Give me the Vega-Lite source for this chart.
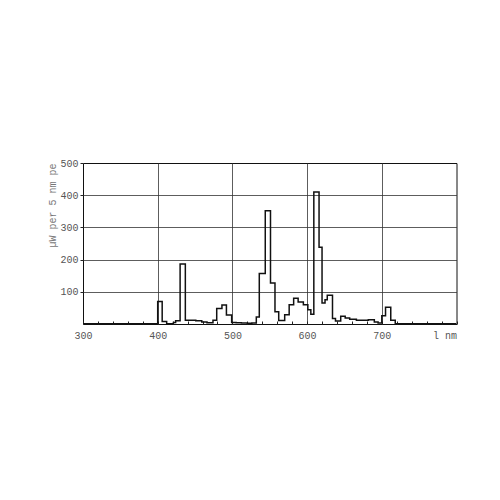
{
  "$schema": "https://vega.github.io/schema/vega-lite/v6.json",
  "autosize": "none",
  "width": 373.5,
  "height": 161,
  "padding": {"left": 83, "top": 163, "right": 43.5, "bottom": 176},
  "background": "white",
  "config": {
    "view": {"stroke": "#111", "strokeWidth": 1},
    "axis": {
      "domain": false,
      "labelFont": "Liberation Mono",
      "labelFontSize": 10,
      "labelColor": "#555",
      "tickColor": "#222",
      "gridColor": "#333",
      "gridWidth": 0.8
    }
  },
  "data": {
    "values": [
      {"nm": 300, "uw": 1},
      {"nm": 400, "uw": 70},
      {"nm": 406, "uw": 8},
      {"nm": 412, "uw": 1},
      {"nm": 421, "uw": 5},
      {"nm": 424, "uw": 10},
      {"nm": 430, "uw": 186},
      {"nm": 437, "uw": 12},
      {"nm": 451, "uw": 10},
      {"nm": 459, "uw": 6},
      {"nm": 466, "uw": 4},
      {"nm": 474, "uw": 12},
      {"nm": 479, "uw": 48},
      {"nm": 486, "uw": 59},
      {"nm": 492, "uw": 28},
      {"nm": 499, "uw": 5},
      {"nm": 505, "uw": 4},
      {"nm": 512, "uw": 3},
      {"nm": 520, "uw": 2},
      {"nm": 526, "uw": 3},
      {"nm": 532, "uw": 22},
      {"nm": 536, "uw": 157},
      {"nm": 544, "uw": 352},
      {"nm": 551, "uw": 127},
      {"nm": 557, "uw": 38},
      {"nm": 562, "uw": 11},
      {"nm": 570, "uw": 29},
      {"nm": 576, "uw": 60},
      {"nm": 582, "uw": 80},
      {"nm": 588, "uw": 68},
      {"nm": 595, "uw": 60},
      {"nm": 601, "uw": 44},
      {"nm": 605, "uw": 30},
      {"nm": 609, "uw": 410},
      {"nm": 616, "uw": 238},
      {"nm": 620, "uw": 65},
      {"nm": 624, "uw": 75},
      {"nm": 627, "uw": 89},
      {"nm": 634, "uw": 17},
      {"nm": 638, "uw": 9},
      {"nm": 645, "uw": 24},
      {"nm": 651, "uw": 19},
      {"nm": 657, "uw": 15},
      {"nm": 666, "uw": 12},
      {"nm": 682, "uw": 13},
      {"nm": 690, "uw": 6},
      {"nm": 695, "uw": 3},
      {"nm": 700, "uw": 26},
      {"nm": 705, "uw": 52},
      {"nm": 712, "uw": 12},
      {"nm": 718, "uw": 1},
      {"nm": 800, "uw": 1}
    ]
  },
  "mark": {"type": "line", "interpolate": "step-after", "color": "#111", "strokeWidth": 1.5, "clip": true},
  "encoding": {
    "x": {
      "field": "nm",
      "type": "quantitative",
      "scale": {"domain": [300, 800], "nice": false},
      "axis": {
        "title": null,
        "values": [300, 320, 340, 360, 380, 400, 420, 440, 460, 480, 500, 520, 540, 560, 580, 600, 620, 640, 660, 680, 700, 720, 740, 760, 780, 800],
        "labelExpr": "datum.value == 800 ? 'l nm' : (datum.value % 100 == 0 ? datum.label : '')",
        "labelAlign": {"condition": {"test": "datum.value == 800", "value": "right"}, "value": "center"},
        "labelPadding": 9,
        "tickSize": -3,
        "gridOpacity": {"condition": {"test": "datum.value % 100 == 0 && datum.value > 300 && datum.value < 800", "value": 1}, "value": 0}
      }
    },
    "y": {
      "field": "uw",
      "type": "quantitative",
      "scale": {"domain": [0, 500], "nice": false},
      "axis": {
        "title": "µW per 5 nm pe",
        "titleFont": "Liberation Mono",
        "titleFontSize": 10,
        "titleFontWeight": "normal",
        "titleColor": "#777",
        "titleAnchor": "end",
        "titlePadding": 2,
        "values": [100, 200, 300, 400, 500],
        "labelPadding": 2,
        "tickSize": 3,
        "gridOpacity": {"condition": {"test": "datum.value == 500", "value": 0}, "value": 1}
      }
    }
  }
}
